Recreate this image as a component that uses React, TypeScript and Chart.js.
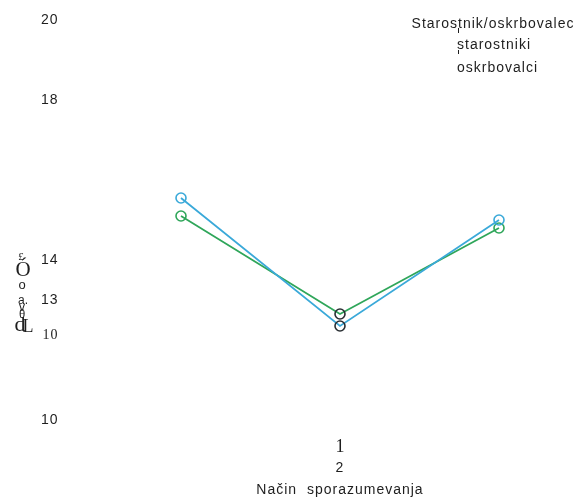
import { useEffect, useRef } from "react";
import { Chart, registerables } from "chart.js";
Chart.register(...registerables);

const categories = ["", "2", ""];
const starostniki = [15.55, 12.35, 15.0];
const oskrbovalci = [15.1, 12.65, 14.8];
const seriesNames = ["starostniki", "oskrbovalci"];
const legendTitle = "Starostnik/oskrbovalec";
const yTickValues = [10, 12.125, 13, 14, 18, 20];
const yTickLabels = ["10", "10", "13", "14", "18", "20"];
const xTitle = "Način  sporazumevanja";
const xExtraLabel = "1";
const yTitleGlyphs = ["£", "Ó", "o", "a.", "v", "θ", "d", "L"];

const BLUE = "#3aa9d9";
const GREEN = "#2fa65a";
const DARK = "#2a2f33";
const TEXT = "#1e1e1e";
const SANS = "'Liberation Sans', Arial, sans-serif";
const SERIF = "'Liberation Serif', 'Times New Roman', serif";

const spacingPlugin = {
  id: "spacing",
  beforeUpdate(chart: any) {
    chart.ctx.letterSpacing = "1px";
  },
  beforeDraw(chart: any) {
    chart.ctx.letterSpacing = "1px";
  },
};

const extrasPlugin = {
  id: "extras",
  afterDraw(chart: any) {
    const ctx = chart.ctx;
    const xs = chart.scales.x;
    const ca = chart.chartArea;
    ctx.save();
    ctx.fillStyle = TEXT;
    // legend
    ctx.letterSpacing = "1px";
    ctx.font = `14px ${SANS}`;
    ctx.textBaseline = "middle";
    ctx.textAlign = "center";
    ctx.fillText(legendTitle, 493, 24);
    ctx.textAlign = "left";
    ctx.fillText(seriesNames[0], 457, 45);
    ctx.fillText(seriesNames[1], 457, 68);
    ctx.strokeStyle = TEXT;
    ctx.lineWidth = 1;
    ctx.beginPath();
    ctx.moveTo(458.5, 28);
    ctx.lineTo(458.5, 33);
    ctx.moveTo(458.5, 50);
    ctx.lineTo(458.5, 54);
    ctx.stroke();
    // extra serif x label
    ctx.letterSpacing = "0px";
    ctx.font = `18px ${SERIF}`;
    ctx.textAlign = "center";
    const cx = xs.getPixelForValue(1);
    ctx.fillText(xExtraLabel, cx, ca.bottom + 27);
    // garbled y title
    const specs = [
      { s: 11, x: 21, y: 257, serif: true },
      { s: 21, x: 23, y: 270, serif: true },
      { s: 13, x: 22, y: 285, serif: false },
      { s: 12, x: 23, y: 301, serif: false },
      { s: 12, x: 22, y: 308, serif: false },
      { s: 13, x: 22, y: 315, serif: true },
      { s: 22, x: 20, y: 325, serif: true },
      { s: 18, x: 28, y: 327, serif: true },
    ];
    yTitleGlyphs.forEach((g, i) => {
      const sp = specs[i];
      ctx.font = `${sp.s}px ${sp.serif ? SERIF : SANS}`;
      ctx.fillText(g, sp.x, sp.y);
    });
    ctx.restore();
  },
};

export default function App() {
  const ref = useRef<HTMLCanvasElement | null>(null);
  useEffect(() => {
    if (!ref.current) return;
    const chart = new Chart(ref.current, {
      type: "line",
      data: {
        labels: categories,
        datasets: [
          {
            label: seriesNames[0],
            data: starostniki,
            borderColor: BLUE,
            backgroundColor: "rgba(0,0,0,0)",
            borderWidth: 1.8,
            pointRadius: 5,
            pointBorderWidth: 1.6,
            pointBorderColor: [BLUE, DARK, BLUE],
            pointBackgroundColor: "rgba(0,0,0,0)",
            tension: 0,
          },
          {
            label: seriesNames[1],
            data: oskrbovalci,
            borderColor: GREEN,
            backgroundColor: "rgba(0,0,0,0)",
            borderWidth: 1.8,
            pointRadius: 5,
            pointBorderWidth: 1.6,
            pointBorderColor: [GREEN, DARK, GREEN],
            pointBackgroundColor: "rgba(0,0,0,0)",
            tension: 0,
          },
        ],
      },
      options: {
        animation: false,
        responsive: true,
        maintainAspectRatio: false,
        layout: { padding: { top: 20, right: 4.5, left: 0, bottom: 0 }, autoPadding: false },
        plugins: {
          legend: { display: false },
          tooltip: { enabled: false },
        },
        scales: {
          x: {
            type: "category",
            offset: true,
            grid: { display: false, drawTicks: false },
            border: { display: false },
            afterFit: (s: any) => {
              s.height = 81;
              s.paddingLeft = 0;
              s.paddingRight = 0;
            },
            ticks: {
              autoSkip: false,
              maxRotation: 0,
              padding: 40,
              color: TEXT,
              font: { family: SANS, size: 14 },
              callback: (_v: any, i: number) => categories[i],
            },
            title: {
              display: true,
              text: xTitle,
              color: TEXT,
              font: { family: SANS, size: 14 },
              padding: { top: 0, bottom: 2 },
            },
          },
          y: {
            min: 10,
            max: 20,
            grid: { display: false, drawTicks: false },
            border: { display: false },
            afterFit: (s: any) => {
              s.width = 101.5;
              s.paddingTop = 0;
              s.paddingBottom = 0;
            },
            afterBuildTicks: (s: any) => {
              s.ticks = yTickValues.map((v) => ({ value: v }));
            },
            ticks: {
              autoSkip: false,
              padding: 43,
              color: TEXT,
              font: (c: any) =>
                c.index === 1
                  ? { family: SERIF, size: 14 }
                  : { family: SANS, size: 14 },
              callback: (_v: any, i: number) => yTickLabels[i],
            },
          },
        },
      },
      plugins: [spacingPlugin, extrasPlugin],
    } as any);
    return () => chart.destroy();
  }, []);
  return (
    <div style={{ position: "fixed", left: 0, top: 0, width: 583, height: 501, background: "#fff" }}>
      <canvas ref={ref} />
    </div>
  );
}
